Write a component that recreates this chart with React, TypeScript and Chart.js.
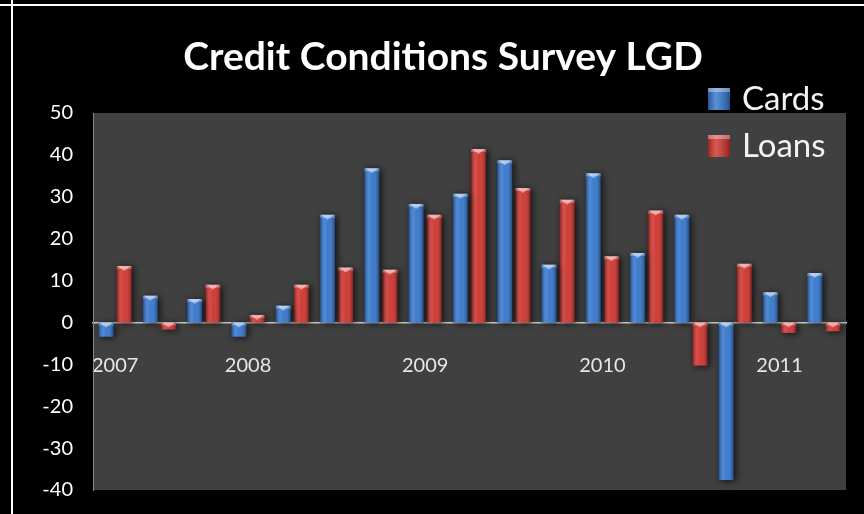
import React, { useEffect, useRef } from "react";
import { Chart, registerables } from "chart.js";
Chart.register(...registerables);

const categories = ["2007", "", "", "2008", "", "", "", "2009", "", "", "", "2010", "", "", "", "2011", ""];
const cardsValues = [-3.4, 6.4, 5.6, -3.4, 4.0, 25.7, 36.8, 28.3, 30.7, 38.7, 13.8, 35.6, 16.6, 25.7, -37.6, 7.2, 11.8];
const loansValues = [13.5, -1.7, 9.0, 1.8, 9.0, 13.1, 12.6, 25.7, 41.4, 32.1, 29.3, 15.8, 26.7, -10.3, 14.0, -2.5, -2.1];
const seriesNames = ["Cards", "Loans"];
const yMin = -40;
const yMax = 50;
const yStep = 10;
const titleText = "Credit Conditions Survey LGD";

const BLUE = "#3073cc";
const RED = "#cf2f29";

const plotBg = {
  id: "plotBg",
  beforeDraw(chart: any) {
    const { ctx, chartArea } = chart;
    ctx.save();
    ctx.fillStyle = "#404040";
    ctx.fillRect(chartArea.left, chartArea.top, chartArea.right - chartArea.left, chartArea.bottom - chartArea.top);
    ctx.restore();
  },
};

const titlePlugin = {
  id: "titleText",
  afterDraw(chart: any) {
    const ctx = chart.ctx;
    ctx.save();
    ctx.fillStyle = "#ffffff";
    ctx.font = "bold 39px Lato";
    ctx.textAlign = "center";
    ctx.textBaseline = "middle";
    ctx.fillText(titleText, 443, 57);
    ctx.restore();
  },
};

const barStyle = {
  id: "barStyle",
  beforeDatasetsDraw(chart: any) {
    const ctx = chart.ctx;
    ctx.save();
    ctx.shadowColor = "rgba(0,0,0,0.75)";
    ctx.shadowBlur = 7;
    ctx.shadowOffsetX = 2;
    ctx.shadowOffsetY = 1;
  },
  afterDatasetsDraw(chart: any) {
    const ctx = chart.ctx;
    ctx.restore();
    ctx.save();
    chart.data.datasets.forEach((_ds: any, di: number) => {
      const meta = chart.getDatasetMeta(di);
      meta.data.forEach((el: any) => {
        const { x, y, base, width } = el.getProps(["x", "y", "base", "width"], true);
        const left = x - width / 2;
        const top = Math.min(y, base);
        const h = Math.abs(base - y);
        const g = ctx.createLinearGradient(left, 0, left + width, 0);
        g.addColorStop(0, "rgba(0,0,0,0.35)");
        g.addColorStop(0.3, "rgba(255,255,255,0.16)");
        g.addColorStop(0.55, "rgba(255,255,255,0.06)");
        g.addColorStop(1, "rgba(0,0,0,0.38)");
        ctx.fillStyle = g;
        ctx.fillRect(left, top, width, h);
        const capH = Math.min(5, Math.max(h, 2));
        ctx.fillStyle = "rgba(255,255,255,0.28)";
        ctx.fillRect(left, top, width, Math.min(3, capH));
        ctx.beginPath();
        ctx.moveTo(left + 1, top);
        ctx.lineTo(left + width - 1, top);
        ctx.lineTo(x, top + capH);
        ctx.closePath();
        ctx.fillStyle = "rgba(255,255,255,0.45)";
        ctx.fill();
      });
    });
    ctx.restore();
  },
};

const customLegend = {
  id: "customLegend",
  afterDraw(chart: any) {
    const ctx = chart.ctx;
    ctx.save();
    const colors = [BLUE, RED];
    chart.data.datasets.forEach((ds: any, i: number) => {
      const cy = 99 + i * 47;
      const bx = 708;
      const size = 22;
      ctx.fillStyle = colors[i];
      ctx.fillRect(bx, cy - size / 2, size, size);
      const g = ctx.createLinearGradient(bx, 0, bx + size, 0);
      g.addColorStop(0, "rgba(0,0,0,0.25)");
      g.addColorStop(0.35, "rgba(255,255,255,0.2)");
      g.addColorStop(1, "rgba(0,0,0,0.3)");
      ctx.fillStyle = g;
      ctx.fillRect(bx, cy - size / 2, size, size);
      ctx.fillStyle = "rgba(255,255,255,0.35)";
      ctx.fillRect(bx, cy - size / 2, size, 4);
      ctx.fillStyle = "#f2f2f2";
      ctx.font = "33px Lato";
      ctx.textBaseline = "middle";
      ctx.textAlign = "left";
      ctx.fillText(ds.label, 742, cy);
    });
    ctx.restore();
  },
};

export default function App() {
  const ref = useRef<HTMLCanvasElement | null>(null);
  useEffect(() => {
    if (!ref.current) return;
    const chart = new Chart(ref.current, {
      type: "bar",
      data: {
        labels: categories,
        datasets: [
          { label: seriesNames[0], data: cardsValues, backgroundColor: BLUE, borderWidth: 0, barPercentage: 0.82, categoryPercentage: 0.82 },
          { label: seriesNames[1], data: loansValues, backgroundColor: RED, borderWidth: 0, barPercentage: 0.82, categoryPercentage: 0.82 },
        ],
      },
      options: {
        animation: false,
        responsive: false,
        maintainAspectRatio: false,
        layout: { padding: { left: 0, right: 18, top: 113, bottom: 24 } },
        plugins: {
          legend: { display: false },
          tooltip: { enabled: false },
          title: { display: false },
        },
        scales: {
          x: {
            position: { y: 0 } as any,
            z: 1,
            grid: { display: false, drawTicks: false },
            border: { display: true, color: "#cfcfcf", width: 1.5 },
            ticks: {
              autoSkip: false,
              maxRotation: 0,
              color: "#e6e6e6",
              font: { family: "Lato", size: 20 },
              padding: 31,
            },
          },
          y: {
            min: yMin,
            max: yMax,
            grid: { display: false, drawTicks: false },
            border: { display: true, color: "#8a8a8a", width: 1 },
            ticks: {
              stepSize: yStep,
              color: "#ffffff",
              font: { family: "Lato", size: 20 },
              padding: 20,
            },
            afterFit(scale: any) {
              scale.width = 93;
              scale.paddingTop = 0;
              scale.paddingBottom = 0;
            },
          },
        },
      },
      plugins: [plotBg, barStyle, customLegend, titlePlugin],
    });
    return () => chart.destroy();
  }, []);
  return (
    <div style={{ position: "absolute", left: 0, top: 0, width: 864, height: 514, background: "#000" }}>
      <canvas ref={ref} width={864} height={514} style={{ display: "block", width: 864, height: 514 }} />
      <div style={{ position: "absolute", left: 0, top: 4, width: 864, height: 2, background: "#ffffff" }} />
      <div style={{ position: "absolute", left: 11, top: 0, width: 2, height: 514, background: "#ffffff" }} />
    </div>
  );
}
